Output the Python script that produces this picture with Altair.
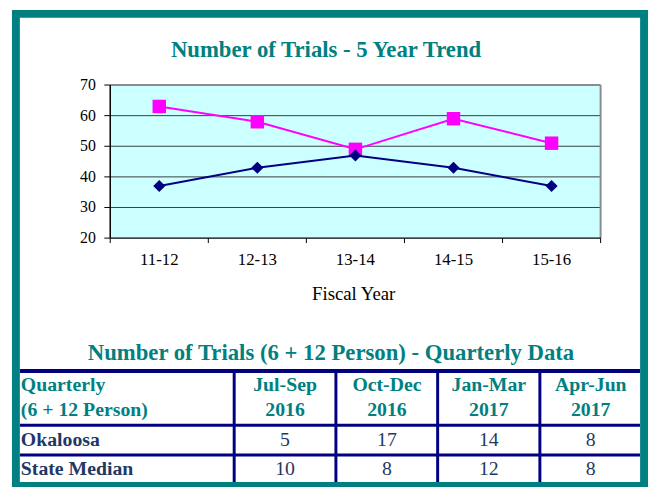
import altair as alt
import pandas as pd

# ---------------- data ----------------
years = ["11-12", "12-13", "13-14", "14-15", "15-16"]
okaloosa_trend = [37, 43, 47, 43, 37]
state_trend = [63, 58, 49, 59, 51]
y_ticks = [20, 30, 40, 50, 60, 70]
grid_vals = [30, 40, 50, 60]

quarters = ["Jul-Sep 2016", "Oct-Dec 2016", "Jan-Mar 2017", "Apr-Jun 2017"]
okaloosa_q = [5, 17, 14, 8]
state_q = [10, 8, 12, 8]
row_labels = ["Okaloosa", "State Median"]

chart_title = "Number of Trials - 5 Year Trend"
table_title = "Number of Trials (6 + 12 Person) - Quarterly Data"
x_title = "Fiscal Year"
header_label = "Quarterly\n(6 + 12 Person)"

# ---------------- styles ----------------
TEAL = "#008080"
NAVY = "#000080"
MAGENTA = "#FF00FF"
CYAN = "#CCFFFF"
TXT_NAVY = "#1F3864"
SERIF = "Liberation Serif"

trend = pd.DataFrame(
    [{"year": y, "series": "Okaloosa", "value": v} for y, v in zip(years, okaloosa_trend)]
    + [{"year": y, "series": "State Median", "value": v} for y, v in zip(years, state_trend)]
)
qdf = pd.DataFrame(
    [{"col": q, "row": "Okaloosa", "value": v} for q, v in zip(quarters, okaloosa_q)]
    + [{"col": q, "row": "State Median", "value": v} for q, v in zip(quarters, state_q)]
)
hdr = pd.DataFrame({"col": quarters, "label": [q.replace(" ", "\n") for q in quarters]})
ydf = pd.DataFrame({"v": y_ticks})
gdf = pd.DataFrame({"v": grid_vals})
bdf = pd.DataFrame({"b": list(range(len(years) + 1))})
rdf = pd.DataFrame({"row": row_labels})
one = pd.DataFrame({"a": [0]})

# ---------------- scales ----------------
xs = alt.Scale(type="point", domain=years, range=[103.5, 600], padding=0.5)
bs = alt.Scale(type="linear", domain=[0, len(years)], range=[103.5, 600], zero=False, nice=False)
ys = alt.Scale(type="linear", domain=[20, 70], range=[230, 75], zero=False, nice=False)
cs = alt.Scale(type="point", domain=quarters, range=[280.5, 590], padding=0)
rs = alt.Scale(type="point", domain=row_labels, range=[434, 464], padding=0)

N = len(years)

def xb(v):
    return alt.XDatum(v, type="quantitative", scale=bs, axis=None)

def yv(v):
    return alt.YDatum(v, type="quantitative", scale=ys, axis=None)

layers = []

# plot background
layers.append(alt.Chart(one).mark_rect(fill=CYAN).encode(
    x=xb(0), x2=alt.X2Datum(N), y=yv(20), y2=alt.Y2Datum(70)))
# gridlines
layers.append(alt.Chart(gdf).mark_rule(color="#3c3c3c", strokeWidth=1).encode(
    y=alt.Y("v:Q", scale=ys, axis=None), x=xb(0), x2=alt.X2Datum(N)))
# gray top / right border
layers.append(alt.Chart(one).mark_rule(color="#8c8c8c", strokeWidth=2).encode(
    y=yv(70), x=xb(0), x2=alt.X2Datum(N)))
layers.append(alt.Chart(one).mark_rule(color="#8c8c8c", strokeWidth=2).encode(
    x=xb(N), y=yv(20), y2=alt.Y2Datum(70)))
# axis lines
layers.append(alt.Chart(one).mark_rule(color="black", strokeWidth=1.5).encode(
    x=xb(0), y=yv(20), y2=alt.Y2Datum(70)))
layers.append(alt.Chart(one).mark_rule(color="black", strokeWidth=1.5).encode(
    y=yv(20), x=xb(0), x2=alt.X2Datum(N)))
# y ticks
layers.append(alt.Chart(ydf).mark_rule(color="black", strokeWidth=1).encode(
    y=alt.Y("v:Q", scale=ys, axis=None), x=alt.value(97.5), x2=alt.value(103.5)))
# x ticks at category boundaries
layers.append(alt.Chart(bdf).mark_rule(color="black", strokeWidth=1).encode(
    x=alt.X("b:Q", scale=bs, axis=None), y=alt.value(230), y2=alt.value(235)))
# y labels
layers.append(alt.Chart(ydf).mark_text(align="right", baseline="middle", font=SERIF,
                                       fontSize=16, color="black").encode(
    y=alt.Y("v:Q", scale=ys, axis=None), x=alt.value(89), text="v:Q"))
# x labels
layers.append(alt.Chart(pd.DataFrame({"year": years})).mark_text(
    align="center", baseline="middle", font=SERIF, fontSize=17, color="black").encode(
    x=alt.X("year:N", scale=xs, axis=None), y=alt.value(252), text="year:N"))

# series lines and markers
series_style = [("State Median", MAGENTA, "square", 185),
                ("Okaloosa", NAVY, "diamond", 150)]
for name, col, shape, size in series_style:
    base = alt.Chart(trend).transform_filter(alt.datum.series == name)
    layers.append(base.mark_line(color=col, strokeWidth=2).encode(
        x=alt.X("year:N", scale=xs, axis=None),
        y=alt.Y("value:Q", scale=ys, axis=None)))
    layers.append(base.mark_point(shape=shape, size=size, filled=True, color=col,
                                  opacity=1).encode(
        x=alt.X("year:N", scale=xs, axis=None),
        y=alt.Y("value:Q", scale=ys, axis=None)))

# titles
layers.append(alt.Chart(one).mark_text(text=chart_title, font=SERIF, fontSize=23,
                                       fontWeight="bold", color=TEAL, align="center",
                                       baseline="middle").encode(
    x=alt.value(322), y=alt.value(40)))
layers.append(alt.Chart(one).mark_text(text=x_title, font=SERIF, fontSize=19,
                                       color="black", align="center",
                                       baseline="middle").encode(
    x=alt.value(350), y=alt.value(287)))
layers.append(alt.Chart(one).mark_text(text=table_title, font=SERIF, fontSize=23,
                                       fontWeight="bold", color=TEAL, align="center",
                                       baseline="middle").encode(
    x=alt.value(327), y=alt.value(346)))

# table lines
for yy, w in [(364.5, 4), (419.5, 3), (449.5, 3)]:
    layers.append(alt.Chart(one).mark_rule(color=NAVY, strokeWidth=w).encode(
        y=alt.value(yy), x=alt.value(12), x2=alt.value(640)))
for xx in [229, 332, 435, 538.5]:
    layers.append(alt.Chart(one).mark_rule(color=NAVY, strokeWidth=3).encode(
        x=alt.value(xx), y=alt.value(364.5), y2=alt.value(480)))

# table header (first line position; second line follows lineHeight)
layers.append(alt.Chart(one).mark_text(text=header_label, lineBreak="\n", lineHeight=25,
                                       font=SERIF, fontSize=20, fontWeight="bold",
                                       color=TEAL, align="left", baseline="middle").encode(
    x=alt.value(13), y=alt.value(379)))
layers.append(alt.Chart(hdr).mark_text(lineBreak="\n", lineHeight=25, font=SERIF,
                                       fontSize=20, fontWeight="bold", color=TEAL,
                                       align="center", baseline="middle").encode(
    x=alt.X("col:N", scale=cs, axis=None), y=alt.value(379), text="label:N"))
# row labels
layers.append(alt.Chart(rdf).mark_text(font=SERIF, fontSize=20, fontWeight="bold",
                                       color=TXT_NAVY, align="left",
                                       baseline="middle").encode(
    y=alt.Y("row:N", scale=rs, axis=None), x=alt.value(13), text="row:N"))
# values
layers.append(alt.Chart(qdf).mark_text(font=SERIF, fontSize=20, color=TXT_NAVY,
                                       align="center", baseline="middle").encode(
    x=alt.X("col:N", scale=cs, axis=None), y=alt.Y("row:N", scale=rs, axis=None),
    text="value:Q"))

# outer teal frame
layers.append(alt.Chart(one).mark_rect(fillOpacity=0, stroke=TEAL, strokeWidth=8).encode(
    x=alt.value(8), x2=alt.value(644), y=alt.value(3), y2=alt.value(481)))

chart = alt.layer(*layers).resolve_scale(x="independent", y="independent").properties(
    width=650, height=479, autosize=alt.AutoSizeParams(type="none"), padding=0,
    background="white").configure_view(stroke=None)

chart.save("out.html", embed_options={"renderer": "svg", "actions": False})
